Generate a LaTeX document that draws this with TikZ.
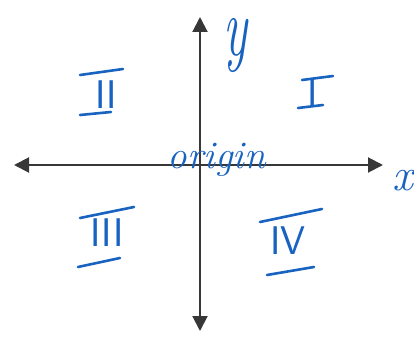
\documentclass[tikz,border=0pt]{standalone}
\usetikzlibrary{arrows.meta,calc}
\definecolor{AxisGray}{RGB}{55,55,55}
\definecolor{PenBlue}{RGB}{24,98,192}
\tikzset{
  axis/.style={{Triangle[length=15pt,width=15pt]}-{Triangle[length=15pt,width=15pt]},line width=2pt,draw=AxisGray},
  pen/.style={text=PenBlue,inner sep=0pt},
  quad/.style={pen,font=\fontsize{40}{40}\selectfont\sffamily},
  bar/.style={draw=PenBlue,line width=2.6pt,line cap=round},
}
\begin{document}
\begin{tikzpicture}[x=1pt,y=-1pt]
    \useasboundingbox (0,0) rectangle (414,339);
    \coordinate (xl) at (14,165); \coordinate (xr) at (383,165);
    \coordinate (yt) at (200,17); \coordinate (yb) at (200,331);
    \draw[axis] (xl)--(xr);
    \draw[axis] (yb)--(yt);
    \node[pen,font=\fontsize{46}{46}\selectfont\itshape] (xlab) at (403,181) {x};
    \node[pen,anchor=base,font=\fontsize{84}{84}\selectfont\itshape] (ylab) at (235,56) {\scalebox{0.6}[1]{y}};
    \node[pen,anchor=base,font=\fontsize{39}{39}\selectfont\itshape] (orig) at (217,168) {origin};
    % quadrants
    \node[quad] (q1) at (313,93) {I};
    \node[quad] (q2) at (106,95) {II};
    \node[quad] (q3) at (107,233) {III};
    \node[quad] (q4) at (288,241) {IV};
    \draw[bar] ($(q1)+(-11,-13)$)--($(q1)+(20,-17)$); \draw[bar] ($(q1)+(-15,15)$)--($(q1)+(10,12)$);
    \draw[bar] ($(q2)+(-26,-20)$)--($(q2)+(17,-26)$); \draw[bar] ($(q2)+(-26,20)$)--($(q2)+(5,17)$);
    \draw[bar] ($(q3)+(-27,-15)$)--($(q3)+(27,-26)$); \draw[bar] ($(q3)+(-29,34)$)--($(q3)+(13,25)$);
    \draw[bar] ($(q4)+(-28,-19)$)--($(q4)+(34,-32)$); \draw[bar] ($(q4)+(-21,34)$)--($(q4)+(26,26)$);
\end{tikzpicture}
\end{document}
